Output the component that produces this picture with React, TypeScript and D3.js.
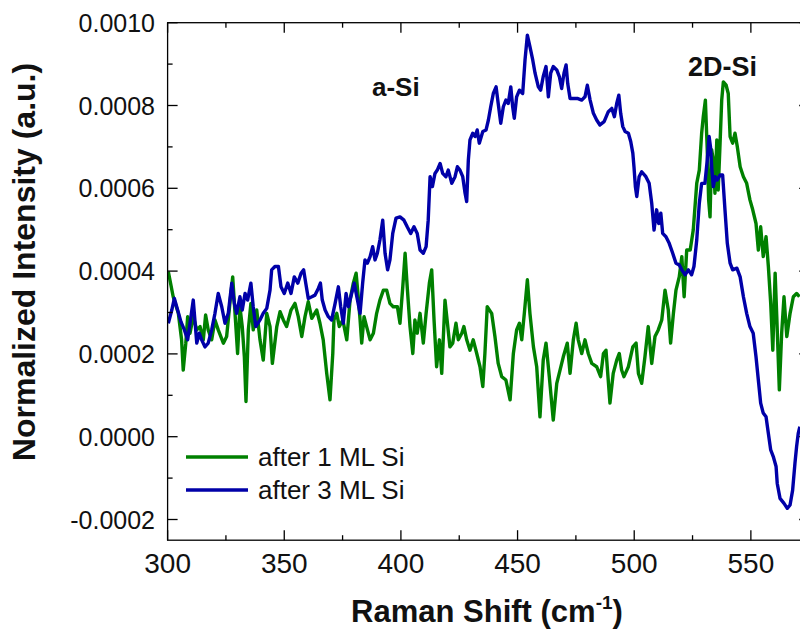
import React from "react";
import * as d3 from "d3";

// Raman shift (cm^-1), normalized intensity in units of 1e-4
const after1ML: [number, number][] = [
  [300.3,3.99],[302.4,3.38],[304.6,2.98],[306.0,2.34],[306.7,1.61],[307.8,2.26],[308.6,2.90],[309.6,2.50],[311.0,2.90],[312.5,2.58],[313.9,2.66],[315.3,2.34],[316.3,2.94],[317.4,2.58],[318.9,2.34],[320.3,2.82],[321.7,2.58],[323.9,2.26],[325.3,2.42],[326.7,3.22],[327.9,3.86],[328.9,2.98],[330.0,2.01],[331.0,3.14],[332.0,2.66],[332.9,1.93],[333.6,0.85],[334.6,2.58],[335.7,3.22],[336.7,2.58],[338.2,3.06],[339.6,2.34],[341.0,1.85],[342.5,2.98],[343.9,2.66],[344.9,1.77],[346.8,2.66],[348.2,3.02],[349.6,2.82],[351.0,2.66],[352.9,3.06],[354.6,3.22],[356.0,2.90],[357.5,2.42],[358.9,2.90],[360.3,3.26],[361.8,2.86],[363.9,3.06],[365.3,2.74],
  [366.7,2.34],[368.2,1.53],[369.6,0.89],[370.8,2.01],[371.3,2.82],[372.5,2.98],[373.6,2.66],[375.1,2.82],[376.8,2.34],[378.2,3.30],[379.6,3.71],[380.8,3.95],[381.7,3.38],[382.5,2.82],[383.2,2.26],[384.2,2.90],[385.3,2.66],[386.8,2.34],[388.2,2.50],[389.6,2.98],[391.0,3.30],[392.5,3.54],[393.9,3.54],[395.3,3.22],[396.7,3.14],[398.5,3.14],[399.6,2.74],[400.8,3.62],[401.8,4.43],[402.7,3.62],[403.9,2.66],[405.1,2.01],[406.0,2.82],[407.0,2.50],[408.2,2.98],[409.6,2.26],[410.8,2.98],[412.2,3.71],[413.2,4.03],[414.2,2.82],[415.3,1.69],[416.5,2.34],[417.5,1.53],[418.9,3.30],[420.1,2.66],[421.0,2.17],[422.2,2.26],[423.6,2.74],[424.6,2.34],[426.1,2.50],[427.0,2.66],[428.2,2.34],[429.6,2.09],[431.0,2.34],[432.5,2.01],[433.9,1.69],[435.1,1.21],[436.0,2.01],[437.0,3.14],[438.9,2.98],[440.3,2.42],[441.7,1.77],[443.2,1.45],[445.0,1.37],[446.8,0.89],[448.2,2.01],[449.6,2.58],[450.8,2.74],[451.8,2.34],[452.9,2.98],[454.2,3.79],[455.3,2.98],[456.8,2.17],[458.2,1.69],[459.6,0.48],[461.0,1.85],[462.2,2.26],[463.6,1.45],[465.3,0.40],[466.8,1.29],[468.2,1.61],[469.6,1.93],[471.3,2.26],[472.5,1.53],[473.9,2.34],[475.1,2.74],[476.0,2.34],[477.5,2.01],[478.9,2.34],[480.3,2.01],[481.8,1.77],[483.9,1.69],[485.6,1.45],[486.8,2.01],[487.9,2.09],[489.6,0.81],[491.0,1.53],[492.5,1.85],[493.6,2.01],[494.6,1.61],[495.6,1.45],[497.5,1.69],[499.4,2.17],[500.8,2.26],[501.8,1.53],[503.2,1.29],[504.6,1.93],[506.0,2.66],[507.5,1.77],[508.9,2.42],[510.3,2.58],[511.8,2.82],[513.2,3.54],[514.6,3.06],[515.6,2.26],[516.8,2.98],[517.9,3.54],[519.3,3.86],[520.4,4.35],[521.4,3.38],[522.5,4.51],[524.0,4.51],[525.3,4.99],[526.8,6.12],[527.9,6.44],[528.9,7.33],[529.6,7.73],[530.5,8.13],[531.3,6.93],[531.9,5.72],[532.5,5.31],[533.2,6.93],[533.9,6.68],[534.6,5.88],[535.4,7.17],[536.0,5.96],[536.8,7.09],[537.5,8.13],[538.2,8.57],[539.4,8.49],[540.3,8.29],[541.1,7.25],[542.2,7.09],[543.2,7.33],[544.2,7.00],[545.4,6.52],[546.8,6.28],[548.2,6.12],[549.6,5.72],[550.8,5.48],[552.2,5.15],[553.2,4.51],[554.2,5.07],[555.3,4.35],[556.5,4.83],[557.5,4.11],[558.5,3.22],[559.4,2.09],[560.4,3.95],[561.1,2.90],[562.2,1.13],[563.2,2.50],[564.2,3.38],[565.4,2.42],[566.8,2.98],[568.2,3.38],[569.6,3.46],[570.8,3.38]
];

const after3ML: [number, number][] = [
  [300.3,2.74],[301.8,3.06],[302.9,3.34],[304.3,3.06],[305.7,2.78],[307.2,2.58],[308.6,2.34],[310.0,2.90],[311.0,3.30],[312.5,2.26],[313.6,2.50],[314.6,2.34],[316.0,2.17],[317.4,2.26],[318.9,2.58],[320.3,2.98],[321.7,3.46],[323.2,3.14],[324.6,2.74],[326.0,2.98],[327.5,3.71],[328.6,3.22],[329.6,2.98],[331.0,3.38],[332.0,3.06],[333.2,3.46],[334.3,3.30],[335.7,3.71],[336.7,3.14],[337.8,2.66],[339.6,2.82],[341.0,2.98],[342.5,3.10],[343.9,3.54],[344.6,4.03],[346.0,4.11],[347.5,4.11],[348.6,3.62],[350.0,3.46],[351.5,3.71],[352.9,3.46],[354.3,3.86],[355.8,3.71],[357.2,3.95],[358.3,4.03],[359.2,3.71],[360.3,3.34],[361.8,3.38],[363.2,3.42],[364.6,3.58],[365.5,3.71],[366.3,3.30],[367.5,3.06],[368.9,2.90],[370.3,2.82],[371.8,3.22],[373.2,3.62],[374.2,3.14],[375.3,2.74],[376.5,3.46],[377.5,3.14],[378.9,3.46],[380.0,3.71],[381.1,3.38],[382.5,2.98],[383.6,3.71],[384.6,4.27],[385.6,4.19],[386.8,4.35],[387.9,4.59],[388.9,4.27],[389.9,4.43],[391.0,4.75],[392.2,5.23],[393.2,4.43],[394.3,4.03],[395.3,4.27],[396.5,4.91],[397.9,5.28],[399.6,5.31],[401.3,5.23],[402.7,5.07],[404.2,4.91],[405.6,5.07],[407.0,4.91],[408.2,4.51],[409.6,4.43],[410.8,4.59],[411.7,5.23],[412.5,6.28],[413.5,6.04],[414.6,6.36],[415.6,6.44],[416.8,6.60],[417.9,6.36],[419.3,6.28],[420.3,6.44],[421.8,6.12],[423.2,6.28],[424.2,6.52],[425.3,6.44],[426.5,6.28],[427.5,5.88],[428.2,5.68],[428.9,6.68],[429.6,7.17],[430.8,7.33],[431.8,7.25],[432.7,7.41],[433.6,7.09],[435.1,7.37],[436.5,7.41],[437.5,7.65],[438.5,7.97],[439.6,8.29],[440.8,8.45],[441.7,8.05],[442.8,7.57],[443.9,7.97],[445.0,8.13],[446.0,8.05],[447.1,8.45],[447.9,7.97],[448.6,7.69],[449.6,8.21],[450.8,8.37],[452.2,8.29],[453.2,9.10],[454.2,9.70],[455.3,9.42],[456.5,9.10],[457.5,8.78],[458.9,8.45],[459.9,8.37],[461.0,8.70],[462.2,8.94],[463.2,8.21],[464.2,8.78],[465.3,8.94],[466.8,8.86],[467.9,8.70],[468.9,8.41],[469.9,8.78],[470.8,8.98],[471.5,8.53],[472.5,8.17],[473.9,8.17],[475.6,8.17],[477.5,8.13],[478.9,8.21],[479.9,8.49],[481.1,8.13],[482.5,7.81],[483.9,7.65],[485.3,7.53],[487.1,7.61],[488.9,7.85],[490.4,7.93],[491.5,7.73],[492.5,8.05],[493.4,8.25],[494.2,7.81],[495.1,7.49],[496.1,7.37],[497.5,7.33],[498.5,7.13],[499.4,6.85],[499.9,6.52],[500.5,6.04],[501.1,5.80],[502.1,6.28],[503.2,6.40],[505.0,6.28],[506.4,6.12],[507.5,5.64],[508.5,4.99],[509.6,5.48],[510.5,5.15],[511.4,5.40],[512.2,4.91],[513.6,4.83],[515.0,4.67],[516.5,4.43],[517.9,4.19],[519.3,4.15],[520.4,4.03],[521.8,3.91],[523.2,4.03],[524.6,3.91],[525.6,4.11],[526.8,4.75],[527.9,5.64],[528.9,6.12],[530.3,6.12],[531.3,6.68],[532.1,7.25],[532.7,7.00],[533.3,6.44],[533.9,6.04],[534.7,6.28],[535.6,6.20],[536.8,6.32],[537.9,6.32],[538.9,5.48],[539.9,4.67],[541.1,4.19],[542.2,4.03],[544.0,4.07],[545.4,3.86],[546.8,3.38],[548.2,2.98],[549.6,2.66],[551.0,2.50],[552.2,1.93],[553.2,1.37],[554.2,0.81],[555.3,0.57],[556.5,0.48],[557.5,0.08],[558.5,-0.32],[559.6,-0.48],[560.8,-0.72],[561.3,-1.13],[562.5,-1.49],[564.2,-1.61],[565.6,-1.73],[566.8,-1.65],[567.9,-1.29],[568.9,-0.64],[569.6,-0.24],[570.3,0.08],[571.0,0.24]
];

const xTicks = [300, 350, 400, 450, 500, 550];
const xMinorTicks = [325, 375, 425, 475, 525, 575];
const yTicks = [-0.0002, 0, 0.0002, 0.0004, 0.0006, 0.0008, 0.001];
const yMinorTicks = [-0.0001, 0.0001, 0.0003, 0.0005, 0.0007, 0.0009];
const seriesLabels = ["after 1 ML Si", "after 3 ML Si"];
const seriesColors = ["#008000", "#0000a8"];
const peakLabels = ["a-Si", "2D-Si"];

const FONT = "'Liberation Sans', Arial, Helvetica, sans-serif";

export default function App() {
  const W = 800, H = 633;
  const x = d3.scaleLinear().domain([300, 575]).range([167.6, 809.2]);
  const y = d3.scaleLinear().domain([-0.00025, 0.001]).range([540.2, 22.7]);
  const line = d3
    .line<[number, number]>()
    .x((d) => x(d[0]))
    .y((d) => y(d[1] * 1e-4));
  const series = [after1ML, after3ML];
  const [x0, x1] = x.range();
  const [yb, yt] = y.range();
  const fmtY = (v: number) => {
    const a = Math.abs(v) < 1e-12 ? 0 : v;
    return (a < 0 ? "-" : "") + Math.abs(a).toFixed(4);
  };

  return (
    <svg
      width={W}
      height={H}
      style={{ position: "absolute", left: 0, top: 0, background: "#fff" }}
      fontFamily={FONT}
    >
      <defs>
        <clipPath id="plotClip">
          <rect x={x0} y={yt} width={x1 - x0} height={yb - yt} />
        </clipPath>
      </defs>
      {series.map((s, i) => (
        <path
          key={i}
          d={line(s) || ""}
          fill="none"
          stroke={seriesColors[i]}
          strokeWidth={3.4}
          strokeLinejoin="round"
          clipPath="url(#plotClip)"
        />
      ))}
      <rect x={x0} y={yt} width={x1 - x0} height={yb - yt} fill="none" stroke="#000" strokeWidth={1.3} />
      {xTicks.map((t) => (
        <g key={"xt" + t}>
          <line x1={x(t)} x2={x(t)} y1={yb} y2={yb - 10} stroke="#000" strokeWidth={1.3} />
          <line x1={x(t)} x2={x(t)} y1={yt} y2={yt + 10} stroke="#000" strokeWidth={1.3} />
          <text x={x(t)} y={573} textAnchor="middle" fontSize={28} fill="#111">
            {t}
          </text>
        </g>
      ))}
      {xMinorTicks.map((t) => (
        <g key={"xm" + t}>
          <line x1={x(t)} x2={x(t)} y1={yb} y2={yb - 5} stroke="#000" strokeWidth={1.3} />
          <line x1={x(t)} x2={x(t)} y1={yt} y2={yt + 5} stroke="#000" strokeWidth={1.3} />
        </g>
      ))}
      {yTicks.map((t) => (
        <g key={"yt" + t}>
          <line x1={x0} x2={x0 + 10} y1={y(t)} y2={y(t)} stroke="#000" strokeWidth={1.3} />
          <line x1={x1} x2={x1 - 10} y1={y(t)} y2={y(t)} stroke="#000" strokeWidth={1.3} />
          <text x={155} y={y(t) + 9} textAnchor="end" fontSize={25} fill="#111">
            {fmtY(t)}
          </text>
        </g>
      ))}
      {yMinorTicks.map((t) => (
        <g key={"ym" + t}>
          <line x1={x0} x2={x0 + 5} y1={y(t)} y2={y(t)} stroke="#000" strokeWidth={1.3} />
          <line x1={x1} x2={x1 - 5} y1={y(t)} y2={y(t)} stroke="#000" strokeWidth={1.3} />
        </g>
      ))}
      <text x={487} y={622} textAnchor="middle" fontSize={31} fontWeight="bold" fill="#111">
        Raman Shift (cm
        <tspan fontSize={19} dy={-13}>-1</tspan>
        <tspan dy={13}>)</tspan>
      </text>
      <text
        transform={`translate(35, 262) rotate(-90)`}
        textAnchor="middle"
        fontSize={32}
        fontWeight="bold"
        fill="#111"
      >
        Normalized Intensity (a.u.)
      </text>
      <text x={372} y={96} fontSize={26} fontWeight="bold" fill="#111">{peakLabels[0]}</text>
      <text x={688} y={76} fontSize={27} fontWeight="bold" fill="#111">{peakLabels[1]}</text>
      {seriesLabels.map((lab, i) => (
        <g key={lab}>
          <line x1={186} x2={248} y1={457 + i * 33} y2={457 + i * 33} stroke={seriesColors[i]} strokeWidth={3.4} />
          <text x={258} y={466 + i * 33} fontSize={26} fill="#111">{lab}</text>
        </g>
      ))}
    </svg>
  );
}
